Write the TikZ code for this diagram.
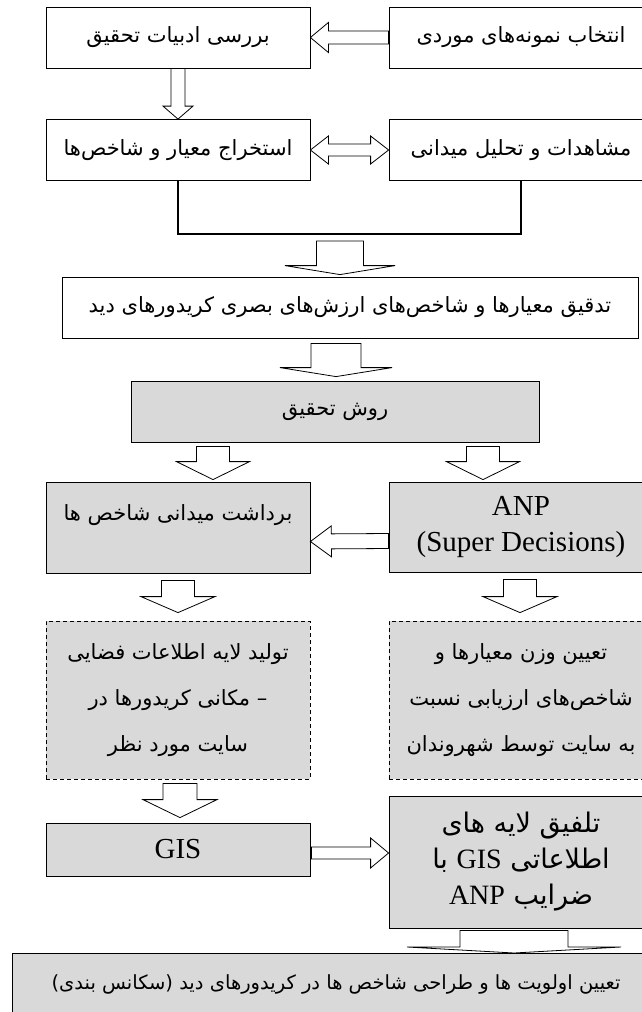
\documentclass[tikz,border=0pt]{standalone}
\usepackage{fontspec}
\setmainfont{Liberation Serif}
\newfontfamily\fa[Script=Arabic]{DejaVu Sans}
\TeXXeTstate=1
\usetikzlibrary{calc}
\definecolor{boxgray}{HTML}{D9D9D9}
\newcommand{\latn}[1]{{\rmfamily\fontsize{28}{36}\selectfont #1}}

\begin{document}
\begin{tikzpicture}[x=1pt,y=-1pt,
  box/.style={draw,line width=.8pt,minimum width=264pt,minimum height=61pt,inner sep=0pt,align=center,font=\fa\fontsize{21}{30}\selectfont},
  greybox/.style={fill=boxgray},
  dashbox/.style={dash pattern=on 4pt off 3pt},
  latinbox/.style={font=\rmfamily\fontsize{29}{36}\selectfont},
  thickline/.style={line width=2.4pt},
  blk/.style n args={3}{draw,line width=.8pt,fill=white,to path={
    (\tikztotarget) coordinate (bt) ($(bt)!#3pt!(\tikztostart)$) coordinate (bh)
    ($(\tikztostart)!#1pt!90:(bt)$) -- ($(bh)!#1pt!90:(bt)$) -- ($(bh)!#2pt!90:(bt)$) -- (bt)
    -- ($(bh)!#2pt!-90:(bt)$) -- ($(bh)!#1pt!-90:(bt)$) -- ($(\tikztostart)!#1pt!-90:(bt)$) -- cycle}},
  blkk/.style n args={3}{draw,line width=.8pt,fill=white,to path={
    (\tikztotarget) coordinate (bt) (\tikztostart) coordinate (bs)
    ($(bs)!#3pt!(bt)$) coordinate (ha) ($(bt)!#3pt!(bs)$) coordinate (hb)
    (bs) -- ($(ha)!#2pt!90:(bt)$) -- ($(ha)!#1pt!90:(bt)$) -- ($(hb)!#1pt!90:(bt)$) -- ($(hb)!#2pt!90:(bt)$) -- (bt)
    -- ($(hb)!#2pt!-90:(bt)$) -- ($(hb)!#1pt!-90:(bt)$) -- ($(ha)!#1pt!-90:(bt)$) -- ($(ha)!#2pt!-90:(bt)$) -- cycle}}]
\useasboundingbox (0,0) rectangle (642,1012);
\node[box] (a) at (178,37.5) {\beginR بررسی ادبیات تحقیق\endR};
\node[box] (b) at (521,37.5) {\beginR انتخاب نمونه^^^^200cهای موردی\endR};
\node[box] (c) at (178,150) {\beginR استخراج معیار و شاخص^^^^200cها\endR};
\node[box] (d) at (521,150) {\beginR مشاهدات و تحلیل میدانی\endR};
\node[box,minimum width=576pt] (e) at (350,307.5) {\beginR تدقیق معیارها و شاخص^^^^200cهای ارزش^^^^200cهای بصری کریدورهای دید\endR};
\node[box,greybox,minimum width=408pt] (f) at (335,411.5) {\beginR روش تحقیق\endR};
\node[box,greybox,minimum height=91pt] (g) at (178,527.5) {\beginR برداشت میدانی شاخص ها\endR\\ \mbox{}};
\node[box,greybox,latinbox,minimum height=90pt] (h) at (521,527) {ANP\\(Super Decisions)};
\node[box,greybox,dashbox,minimum height=158pt,font=\fa\fontsize{21}{46}\selectfont] (i) at (178,700) {\beginR تولید لایه اطلاعات فضایی\endR\\ \beginR – مکانی کریدورها در\endR\\ \beginR سایت مورد نظر\endR};
\node[box,greybox,dashbox,minimum height=158pt,font=\fa\fontsize{21}{46}\selectfont] (j) at (521,700) {\beginR تعیین وزن معیارها و\endR\\ \beginR شاخص^^^^200cهای ارزیابی نسبت\endR\\ \beginR به سایت توسط شهروندان\endR};
\node[box,greybox,latinbox,minimum height=53pt] (k) at (178,849.5) {GIS};
\node[box,greybox,minimum height=132pt,font=\fa\fontsize{27}{36}\selectfont] (l) at (521,862) {\beginR تلفیق لایه های\endR\\ \beginR اطلاعاتی \beginL\latn{GIS}\endL{} با\endR\\ \beginR ضرایب \beginL\latn{ANP}\endL\endR};
\node[box,greybox,minimum width=648pt,minimum height=62pt,anchor=north,font=\fa\fontsize{19.5}{30}\selectfont] (m) at (336,953) {\beginR تعیین اولویت ها و طراحی شاخص ها در کریدورهای دید (سکانس بندی)\endR};
\draw[blk={6.5}{15}{18}] (b.west) to (a.east);
\draw[blk={7}{15}{13}] (a.south) to (c.north);
\draw[blkk={6}{14}{18}] (c.east) to (d.west);
\coordinate (mid) at (340,234);
\draw[thickline] (c.south) |- (mid) -| (d.south);
\draw[blk={23.5}{55}{9}] ($(mid)+(0,7)$) to ($(e.north -| mid)+(0,-2)$);
\draw[blk={25}{56}{9}] ($(e.south -| 336,0)+(0,5)$) to ($(f.north -| 336,0)+(0,-4)$);
\draw[blk={16.5}{36.5}{18}] ($(f.south -| 213,0)+(0,4)$) to ($(g.north -| 213,0)+(0,-2)$);
\draw[blk={16.5}{36.5}{18}] ($(f.south -| 483,0)+(0,4)$) to ($(h.north -| 483,0)+(0,-2)$);
\draw[blk={7.5}{15.5}{21}] ($(h.west)+(0,14)$) to ($(g.east)+(0,14)$);
\draw[blk={16.5}{37}{16}] ($(g.south)+(0,7)$) to ($(i.north)+(0,-8)$);
\draw[blk={16.5}{37}{16}] ($(h.south -| 520,0)+(0,7)$) to ($(j.north -| 520,0)+(0,-8)$);
\draw[blk={17}{37}{18}] ($(i.south -| 180,0)+(0,4)$) to ($(k.north -| 180,0)+(0,-5)$);
\draw[blk={6}{15}{18}] ($(k.east)+(1,3.5)$) to ($(l.west |- k.east)+(0,3.5)$);
\draw[blk={54}{107}{6}] ($(l.south -| 514,0)+(0,2)$) to (m.north -| 514,0);
\end{tikzpicture}
\end{document}
